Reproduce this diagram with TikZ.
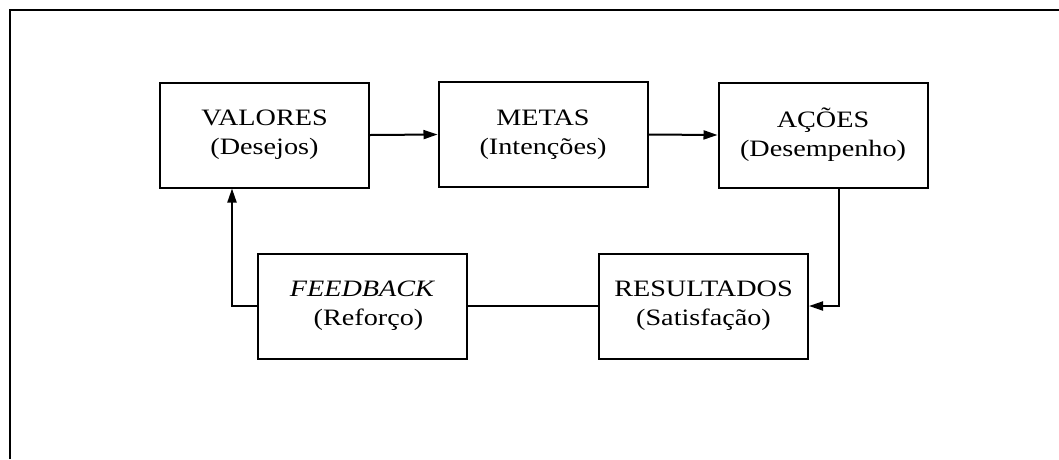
\documentclass[tikz,border=0pt]{standalone}
\usepackage{fontspec}
\setmainfont[FakeStretch=1.2]{Liberation Serif}
\usetikzlibrary{arrows.meta}
\begin{document}
\begin{tikzpicture}[x=1pt,y=1pt,
  box/.style={draw,line width=2pt,minimum width=209pt,minimum height=105pt,inner sep=0pt,align=center,font=\fontsize{23.5}{29}\selectfont},
  conn/.style={line width=2pt},
  arr/.style={conn,-{Triangle[length=14pt,width=9pt]}}]
\useasboundingbox (0,0) rectangle (1059,-459);
\draw[line width=2.2pt] (10,-459) -- (10,-10) -- (1059,-10);
\node[box] (valores) at (264.5,-135) {VALORES\\(Desejos)};
\node[box] (metas) at (543,-134.5) {METAS\\(Intenções)};
\node[box] (acoes) at (823,-135) {AÇÕES\\(Desempenho)};
\node[box] (resultados) at (703.5,-306) {RESULTADOS\\(Satisfação)};
\node[box] (feedback) at (362.5,-306) {\textit{FEEDBACK}\\\hspace*{12pt}(Reforço)};
\coordinate (c1) at (839,-306);
\coordinate (c2) at (232,-306);
\draw[arr] (valores.east) -- (metas.west);
\draw[arr] (metas.east) -- (acoes.west);
\draw[arr] (acoes.south -| c1) -- (c1) -- (resultados.east);
\draw[conn] (resultados.west) -- (feedback.east);
\draw[arr] (feedback.west) -- (c2) -- (valores.south -| c2);
\end{tikzpicture}
\end{document}
